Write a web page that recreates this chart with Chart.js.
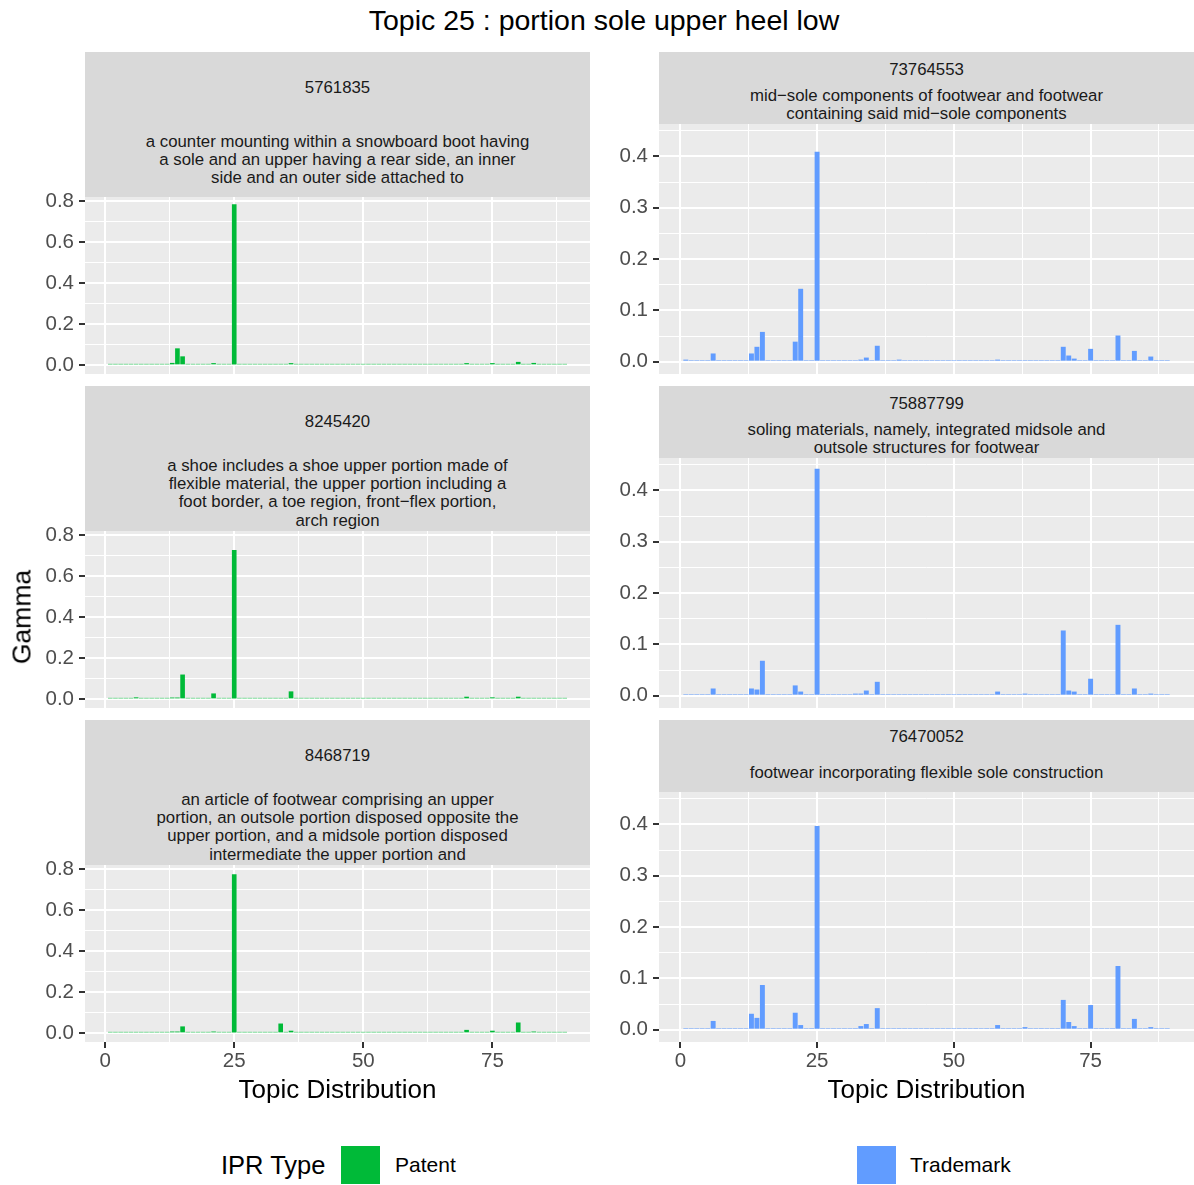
<!DOCTYPE html>
<html>
<head>
<meta charset="utf-8">
<script src="https://cdn.jsdelivr.net/npm/chart.js@4.4.1/dist/chart.umd.min.js"></script>
<style>
  body { margin: 0; background: #fff; }
  #page { position: relative; width: 1194px; height: 1185px; overflow: hidden;
          font-family: "Liberation Sans", Arial, sans-serif; }
  .txt { position: absolute; white-space: nowrap; transform: translate(-50%, -50%); color: #1A1A1A; }
  .left { transform: translate(0, -50%); }
  .strip { position: absolute; background: #D9D9D9; }
  .key { position: absolute; }
  canvas { position: absolute; }
</style>
</head>
<body>
<div id="page"></div>
<script>
// topic index on the x axis
const topics = [
  1, 2, 3, 4, 5, 6, 7, 8, 9, 10,
  11, 12, 13, 14, 15, 16, 17, 18, 19, 20,
  21, 22, 23, 24, 25, 26, 27, 28, 29, 30,
  31, 32, 33, 34, 35, 36, 37, 38, 39, 40,
  41, 42, 43, 44, 45, 46, 47, 48, 49, 50,
  51, 52, 53, 54, 55, 56, 57, 58, 59, 60,
  61, 62, 63, 64, 65, 66, 67, 68, 69, 70,
  71, 72, 73, 74, 75, 76, 77, 78, 79, 80,
  81, 82, 83, 84, 85, 86, 87, 88, 89
];

// gamma per topic, patents
const patent5761835 = [
  0.004, 0.004, 0.004, 0.004, 0.004, 0.004, 0.004, 0.004, 0.004, 0.004,
  0.004, 0.004, 0.012, 0.083, 0.044, 0.004, 0.004, 0.004, 0.004, 0.004,
  0.011, 0.004, 0.004, 0.004, 0.785, 0.004, 0.004, 0.004, 0.004, 0.004,
  0.004, 0.004, 0.004, 0.004, 0.004, 0.011, 0.004, 0.004, 0.004, 0.004,
  0.004, 0.004, 0.004, 0.004, 0.004, 0.004, 0.004, 0.004, 0.004, 0.004,
  0.004, 0.004, 0.004, 0.004, 0.004, 0.004, 0.004, 0.004, 0.004, 0.004,
  0.004, 0.004, 0.004, 0.004, 0.004, 0.004, 0.004, 0.004, 0.004, 0.011,
  0.004, 0.004, 0.004, 0.004, 0.011, 0.004, 0.004, 0.004, 0.004, 0.017,
  0.004, 0.004, 0.012, 0.004, 0.004, 0.004, 0.004, 0.004, 0.004
];
const patent8245420 = [
  0.004, 0.004, 0.004, 0.004, 0.004, 0.010, 0.004, 0.004, 0.004, 0.004,
  0.004, 0.004, 0.009, 0.009, 0.121, 0.004, 0.004, 0.004, 0.004, 0.004,
  0.029, 0.004, 0.004, 0.004, 0.727, 0.004, 0.004, 0.004, 0.004, 0.004,
  0.004, 0.004, 0.004, 0.004, 0.004, 0.039, 0.004, 0.004, 0.004, 0.004,
  0.004, 0.004, 0.004, 0.004, 0.004, 0.004, 0.004, 0.004, 0.004, 0.004,
  0.004, 0.004, 0.004, 0.004, 0.004, 0.004, 0.004, 0.004, 0.004, 0.004,
  0.004, 0.004, 0.004, 0.004, 0.004, 0.004, 0.004, 0.004, 0.004, 0.013,
  0.004, 0.004, 0.004, 0.004, 0.010, 0.004, 0.004, 0.004, 0.004, 0.013,
  0.004, 0.004, 0.004, 0.004, 0.004, 0.004, 0.004, 0.004, 0.004
];
const patent8468719 = [
  0.004, 0.004, 0.004, 0.004, 0.004, 0.004, 0.004, 0.004, 0.004, 0.004,
  0.004, 0.004, 0.009, 0.009, 0.034, 0.004, 0.004, 0.004, 0.004, 0.004,
  0.009, 0.004, 0.004, 0.004, 0.775, 0.004, 0.004, 0.004, 0.004, 0.004,
  0.004, 0.004, 0.004, 0.048, 0.004, 0.013, 0.004, 0.004, 0.004, 0.004,
  0.004, 0.004, 0.004, 0.004, 0.004, 0.004, 0.004, 0.004, 0.004, 0.004,
  0.004, 0.004, 0.004, 0.004, 0.004, 0.004, 0.004, 0.004, 0.004, 0.004,
  0.004, 0.004, 0.004, 0.004, 0.004, 0.004, 0.004, 0.004, 0.004, 0.017,
  0.004, 0.004, 0.004, 0.004, 0.013, 0.004, 0.004, 0.004, 0.004, 0.053,
  0.004, 0.004, 0.009, 0.004, 0.004, 0.004, 0.004, 0.004, 0.004
];

// gamma per topic, trademarks
const tm73764553 = [
  0.004, 0.001, 0.001, 0.002, 0.001, 0.016, 0.001, 0.001, 0.001, 0.001,
  0.001, 0.002, 0.016, 0.029, 0.058, 0.001, 0.001, 0.001, 0.001, 0.001,
  0.039, 0.142, 0.001, 0.001, 0.409, 0.001, 0.001, 0.001, 0.001, 0.001,
  0.001, 0.002, 0.004, 0.008, 0.001, 0.031, 0.001, 0.001, 0.001, 0.004,
  0.002, 0.001, 0.001, 0.001, 0.001, 0.001, 0.001, 0.001, 0.001, 0.001,
  0.001, 0.001, 0.001, 0.002, 0.001, 0.002, 0.001, 0.004, 0.001, 0.002,
  0.001, 0.001, 0.002, 0.001, 0.001, 0.001, 0.001, 0.001, 0.001, 0.029,
  0.012, 0.006, 0.002, 0.001, 0.025, 0.001, 0.001, 0.001, 0.001, 0.051,
  0.001, 0.001, 0.021, 0.001, 0.001, 0.010, 0.001, 0.001, 0.001
];
const tm75887799 = [
  0.002, 0.001, 0.001, 0.002, 0.001, 0.014, 0.001, 0.001, 0.001, 0.001,
  0.001, 0.001, 0.014, 0.012, 0.068, 0.001, 0.001, 0.001, 0.001, 0.001,
  0.020, 0.008, 0.001, 0.002, 0.442, 0.001, 0.001, 0.001, 0.001, 0.001,
  0.001, 0.004, 0.004, 0.010, 0.001, 0.027, 0.001, 0.001, 0.001, 0.002,
  0.001, 0.001, 0.001, 0.001, 0.001, 0.001, 0.001, 0.001, 0.001, 0.001,
  0.001, 0.001, 0.001, 0.002, 0.001, 0.002, 0.001, 0.008, 0.001, 0.002,
  0.001, 0.001, 0.004, 0.001, 0.001, 0.002, 0.001, 0.001, 0.001, 0.127,
  0.010, 0.008, 0.001, 0.001, 0.033, 0.001, 0.001, 0.001, 0.001, 0.138,
  0.001, 0.001, 0.014, 0.001, 0.001, 0.004, 0.001, 0.001, 0.001
];
const tm76470052 = [
  0.003, 0.002, 0.001, 0.001, 0.001, 0.017, 0.001, 0.001, 0.001, 0.001,
  0.001, 0.001, 0.031, 0.023, 0.087, 0.001, 0.001, 0.001, 0.001, 0.001,
  0.033, 0.009, 0.001, 0.003, 0.397, 0.001, 0.001, 0.001, 0.001, 0.001,
  0.001, 0.003, 0.007, 0.011, 0.001, 0.042, 0.001, 0.001, 0.001, 0.003,
  0.001, 0.001, 0.001, 0.001, 0.001, 0.001, 0.001, 0.001, 0.001, 0.001,
  0.001, 0.001, 0.001, 0.003, 0.001, 0.003, 0.001, 0.009, 0.001, 0.002,
  0.001, 0.001, 0.005, 0.001, 0.001, 0.003, 0.001, 0.001, 0.001, 0.058,
  0.015, 0.007, 0.001, 0.001, 0.048, 0.001, 0.001, 0.001, 0.001, 0.124,
  0.001, 0.001, 0.021, 0.001, 0.001, 0.005, 0.001, 0.001, 0.001
];

// tick labels
const xMajor = [0, 25, 50, 75];
const xMinor = [12.5, 37.5, 62.5, 87.5];
const patentYMajor = [0, 0.2, 0.4, 0.6, 0.8];
const patentYMinor = [0.1, 0.3, 0.5, 0.7];
const tmYMajor = [0, 0.1, 0.2, 0.3, 0.4];
const tmYMinor = [0.05, 0.15, 0.25, 0.35, 0.45];

// strip labels
const patentIds = ["5761835", "8245420", "8468719"];
const patentDesc = [
  ["a counter mounting within a snowboard boot having",
   "a sole and an upper having a rear side, an inner",
   "side and an outer side attached to"],
  ["a shoe includes a shoe upper portion made of",
   "flexible material, the upper portion including a",
   "foot border, a toe region, front\u2212flex portion,",
   "arch region"],
  ["an article of footwear comprising an upper",
   "portion, an outsole portion disposed opposite the",
   "upper portion, and a midsole portion disposed",
   "intermediate the upper portion and"]
];
const tmIds = ["73764553", "75887799", "76470052"];
const tmDesc = [
  ["mid\u2212sole components of footwear and footwear",
   "containing said mid\u2212sole components"],
  ["soling materials, namely, integrated midsole and",
   "outsole structures for footwear"],
  ["footwear incorporating flexible sole construction"]
];

const GREEN = "#00BA38";
const BLUE = "#619CFF";
const FONT = "'Liberation Sans', Arial, sans-serif";
Chart.defaults.font.family = FONT;

const page = document.getElementById("page");

function addText(str, x, y, size, opts = {}) {
  const d = document.createElement("div");
  d.className = "txt" + (opts.left ? " left" : "");
  d.textContent = str;
  d.style.left = x + "px";
  d.style.top = y + "px";
  d.style.fontSize = size + "px";
  if (opts.color) d.style.color = opts.color;
  if (opts.rotate) d.style.transform = "translate(-50%, -50%) rotate(-90deg)";
  page.appendChild(d);
}

function addBox(cls, x, y, w, h, color) {
  const d = document.createElement("div");
  d.className = cls;
  Object.assign(d.style, { left: x + "px", top: y + "px", width: w + "px", height: h + "px", background: color });
  page.appendChild(d);
}

const panelBg = {
  id: "panelBg",
  beforeDraw(chart) {
    const { ctx, chartArea: a } = chart;
    ctx.save();
    ctx.fillStyle = "#EBEBEB";
    ctx.fillRect(a.left, a.top, a.right - a.left, a.bottom - a.top);
    ctx.restore();
  }
};

function tickList(major, minor) {
  return major.map((v) => ({ value: v, minor: false }))
    .concat(minor.map((v) => ({ value: v, minor: true })))
    .sort((a, b) => a.value - b.value);
}

// column geometry
const cols = [
  { left: 85, right: 590, axisW: 65, stripH: 145, yMin: -0.042, yMax: 0.82,
    yMajor: patentYMajor, yMinor: patentYMinor, color: GREEN,
    ids: patentIds, desc: patentDesc, series: [patent5761835, patent8245420, patent8468719],
    idY: [36, 36, 36], descY: [90, 80, 80] },
  { left: 659, right: 1194, axisW: 69, stripH: 72, yMin: -0.024, yMax: 0.463,
    yMajor: tmYMajor, yMinor: tmYMinor, color: BLUE,
    ids: tmIds, desc: tmDesc, series: [tm73764553, tm75887799, tm76470052],
    idY: [18, 18, 17], descY: [44, 44, 53] }
];
const rowTops = [52, 386, 720];
const rowH = 322;
const PAD = 22;
const XAXIS_H = 40;

cols.forEach((g) => {
  rowTops.forEach((rt, r) => {
    const showX = r === 2;
    // strip
    addBox("strip", g.left, rt, g.right - g.left, g.stripH, "#D9D9D9");
    const cx = (g.left + g.right) / 2;
    addText(g.ids[r], cx, rt + g.idY[r], 16.8);
    g.desc[r].forEach((line, i) => addText(line, cx, rt + g.descY[r] + i * 18.2, 16.8));

    const plotTop = rt + g.stripH;
    const plotBottom = rt + rowH;
    const canvas = document.createElement("canvas");
    const cLeft = g.left - g.axisW;
    const cTop = plotTop - PAD;
    const cW = g.right - cLeft;
    const cH = plotBottom - plotTop + PAD + (showX ? XAXIS_H : PAD);
    canvas.width = cW;
    canvas.height = cH;
    canvas.style.left = cLeft + "px";
    canvas.style.top = cTop + "px";
    page.appendChild(canvas);

    const values = g.series[r];
    new Chart(canvas, {
      type: "bar",
      data: {
        datasets: [{
          data: topics.map((t, i) => ({ x: t, y: values[i] })),
          backgroundColor: g.color,
          borderWidth: 0,
          barPercentage: 0.9,
          categoryPercentage: 1,
          minBarLength: 1.5
        }]
      },
      options: {
        responsive: false,
        animation: false,
        layout: { padding: { top: PAD, bottom: showX ? 0 : PAD, left: 0, right: 0 } },
        plugins: { legend: { display: false }, tooltip: { enabled: false } },
        scales: {
          x: {
            type: "linear",
            min: -3.9,
            max: 93.9,
            offset: false,
            afterBuildTicks: (s) => { s.ticks = tickList(xMajor, xMinor); },
            afterFit: (s) => { s.height = showX ? XAXIS_H : 0; },
            border: { display: false },
            grid: {
              offset: false,
              color: "#FFFFFF",
              lineWidth: (c) => (c.tick && c.tick.minor ? 1 : 2),
              drawTicks: showX,
              tickLength: 6,
              tickWidth: 2,
              tickColor: (c) => (c.tick && c.tick.minor ? "rgba(0,0,0,0)" : "#333333")
            },
            ticks: {
              display: showX,
              autoSkip: false,
              maxRotation: 0,
              padding: 1,
              color: "#4D4D4D",
              font: { size: 20.5 },
              callback: (v, i, ticks) => (ticks[i].minor ? "" : String(v))
            }
          },
          y: {
            type: "linear",
            min: g.yMin,
            max: g.yMax,
            afterBuildTicks: (s) => { s.ticks = tickList(g.yMajor, g.yMinor); },
            afterFit: (s) => { s.width = g.axisW; },
            border: { display: false },
            grid: {
              color: "#FFFFFF",
              lineWidth: (c) => (c.tick && c.tick.minor ? 1 : 2),
              drawTicks: true,
              tickLength: 6,
              tickWidth: 2,
              tickColor: (c) => (c.tick && c.tick.minor ? "rgba(0,0,0,0)" : "#333333")
            },
            ticks: {
              autoSkip: false,
              padding: 5,
              color: "#4D4D4D",
              font: { size: 20.5 },
              callback: (v, i, ticks) => (ticks[i].minor ? "" : v.toFixed(1))
            }
          }
        }
      },
      plugins: [panelBg]
    });
  });

  addText("Topic Distribution", (g.left + g.right) / 2, 1089, 26, { color: "#000" });
});

addText("Topic 25 : portion sole upper heel low", 604, 20, 28.5, { color: "#000" });
addText("Gamma", 22, 617, 26.5, { color: "#000", rotate: true });

// legends
addText("IPR Type", 221, 1165, 25.5, { color: "#000", left: true });
addBox("key", 341, 1146, 39, 38, GREEN);
addText("Patent", 395, 1165, 21, { color: "#000", left: true });
addBox("key", 857, 1146, 39, 38, BLUE);
addText("Trademark", 910, 1165, 21, { color: "#000", left: true });
</script>
</body>
</html>
